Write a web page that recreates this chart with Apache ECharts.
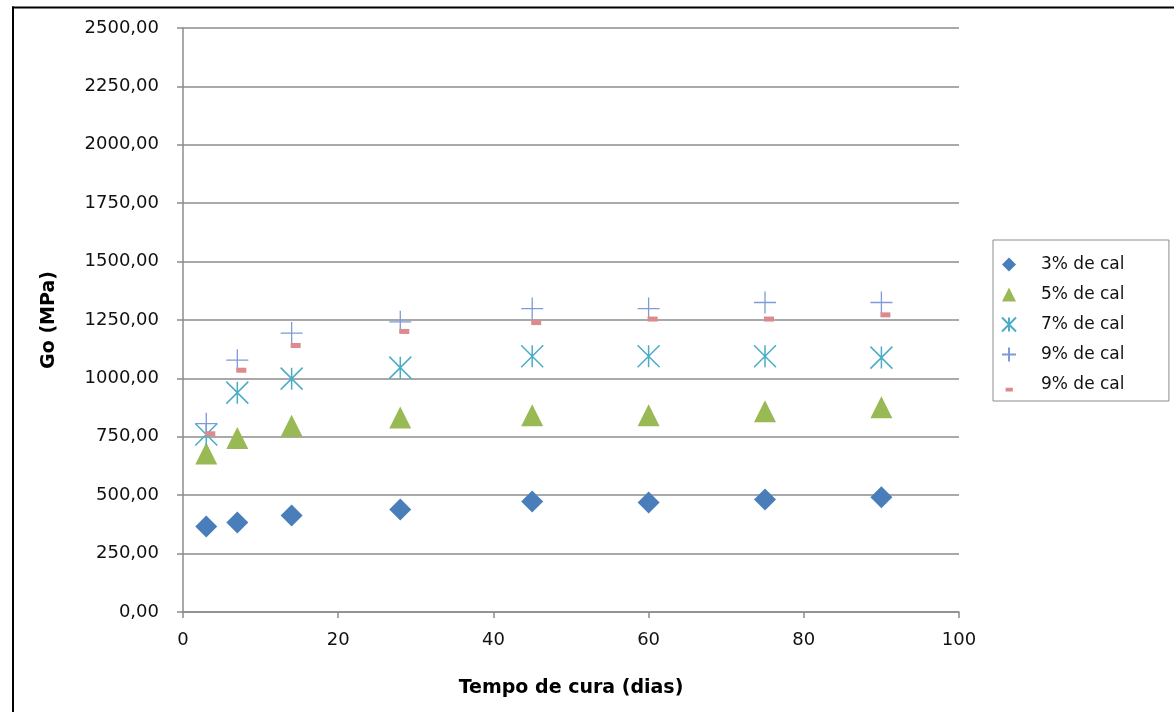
<!DOCTYPE html>
<html>
<head>
<meta charset="utf-8">
<script src="https://cdn.jsdelivr.net/npm/echarts@6/dist/echarts.min.js"></script>
<style>html,body{margin:0;padding:0;background:#fff}#c{width:1174px;height:712px}</style>
</head>
<body>
<div id="c"></div>
<script>
// Data
const days = [3, 7, 14, 28, 45, 60, 75, 90];
const cal3 = [366, 383, 413, 439, 473, 469, 482, 491];
const cal5 = [679, 745, 797, 833, 842, 842, 859, 876];
const cal7 = [760, 939, 999, 1046, 1095, 1095, 1095, 1089];
const cal9 = [806, 1078, 1194, 1242, 1299, 1299, 1325, 1325];
const cal9b = [763, 1035, 1141, 1201, 1239, 1254, 1254, 1272];
const seriesNames = ['3% de cal', '5% de cal', '7% de cal', '9% de cal', '9% de cal '];
const xTitle = 'Tempo de cura (dias)';
const yTitle = 'Go (MPa)';

const pairs = (ys) => days.map((d, i) => [d, ys[i]]);
const font = 'DejaVu Sans';
const gridColor = '#8c8c8c';

const starPath = 'path://M0,0L20,20M20,0L0,20M10,0L10,20';
const plusPath = 'path://M0,10L20,10M10,0L10,20';
const dashLegendIcon = 'path://M0,0h0.01v0.01h-0.01z M14,14h0.01v0.01h-0.01z M3.5,10.5h7.5v4h-7.5z';

const chart = echarts.init(document.getElementById('c'), null, {renderer: 'canvas'});
chart.setOption({
  animation: false,
  backgroundColor: '#fff',
  grid: {left: 183, right: 215, top: 28, bottom: 100, containLabel: false},
  graphic: [
    {type: 'line', shape: {x1: 12, y1: 7.5, x2: 1174, y2: 7.5}, style: {stroke: '#000', lineWidth: 2}},
    {type: 'line', shape: {x1: 13, y1: 6.5, x2: 13, y2: 712}, style: {stroke: '#000', lineWidth: 2}}
  ],
  xAxis: {
    type: 'value', min: 0, max: 100, interval: 20,
    name: xTitle, nameLocation: 'middle', nameGap: 67,
    nameTextStyle: {fontFamily: font, fontWeight: 'bold', fontSize: 19, color: '#000'},
    axisLine: {show: true, lineStyle: {color: gridColor, width: 1.5}},
    axisTick: {show: true, length: 6, lineStyle: {color: gridColor, width: 1.5}},
    axisLabel: {fontFamily: font, fontSize: 18, color: '#111', margin: 19},
    splitLine: {show: false}
  },
  yAxis: {
    type: 'value', min: 0, max: 2500, interval: 250,
    name: yTitle, nameLocation: 'middle', nameGap: 124, nameRotate: 90,
    nameTextStyle: {fontFamily: font, fontWeight: 'bold', fontSize: 19, color: '#000'},
    axisLine: {show: true, lineStyle: {color: gridColor, width: 1.5}},
    axisTick: {show: true, length: 6, lineStyle: {color: gridColor, width: 1.5}},
    axisLabel: {fontFamily: font, fontSize: 18, color: '#111', margin: 24,
      formatter: (v) => v.toFixed(2).replace('.', ',')},
    splitLine: {show: true, lineStyle: {color: gridColor, width: 1.5}}
  },
  legend: {
    orient: 'vertical', left: 993, top: 240,
    padding: [16, 39, 8, 8], itemGap: 13, itemWidth: 14, itemHeight: 14,
    borderColor: '#8c8c8c', borderWidth: 1,
    textStyle: {fontFamily: font, fontSize: 17, color: '#111', lineHeight: 17, padding: [0, 0, 0, 20]},
    data: [
      {name: seriesNames[0], icon: 'diamond'},
      {name: seriesNames[1], icon: 'triangle'},
      {name: seriesNames[2]},
      {name: seriesNames[3]},
      {name: seriesNames[4], icon: dashLegendIcon}
    ]
  },
  series: [
    {name: seriesNames[0], type: 'scatter', data: pairs(cal3), symbol: 'diamond', symbolSize: 22,
      itemStyle: {color: '#4a7ebb', opacity: 1}},
    {name: seriesNames[1], type: 'scatter', data: pairs(cal5), symbol: 'triangle', symbolSize: 22,
      itemStyle: {color: '#98b954', opacity: 1}},
    {name: seriesNames[2], type: 'scatter', data: pairs(cal7), symbol: starPath, symbolSize: 22,
      itemStyle: {color: '#4bacc6', borderColor: '#4bacc6', borderWidth: 1.5, opacity: 1}},
    {name: seriesNames[3], type: 'scatter', data: pairs(cal9), symbol: plusPath, symbolSize: 22,
      itemStyle: {color: '#7f9ad6', borderColor: '#7f9ad6', borderWidth: 1.3, opacity: 1}},
    {name: seriesNames[4], type: 'scatter', data: pairs(cal9b), symbol: 'rect', symbolSize: [10, 5],
      symbolOffset: [4, 0],
      itemStyle: {color: '#dc8a8c', opacity: 1}}
  ]
});
</script>
</body>
</html>
